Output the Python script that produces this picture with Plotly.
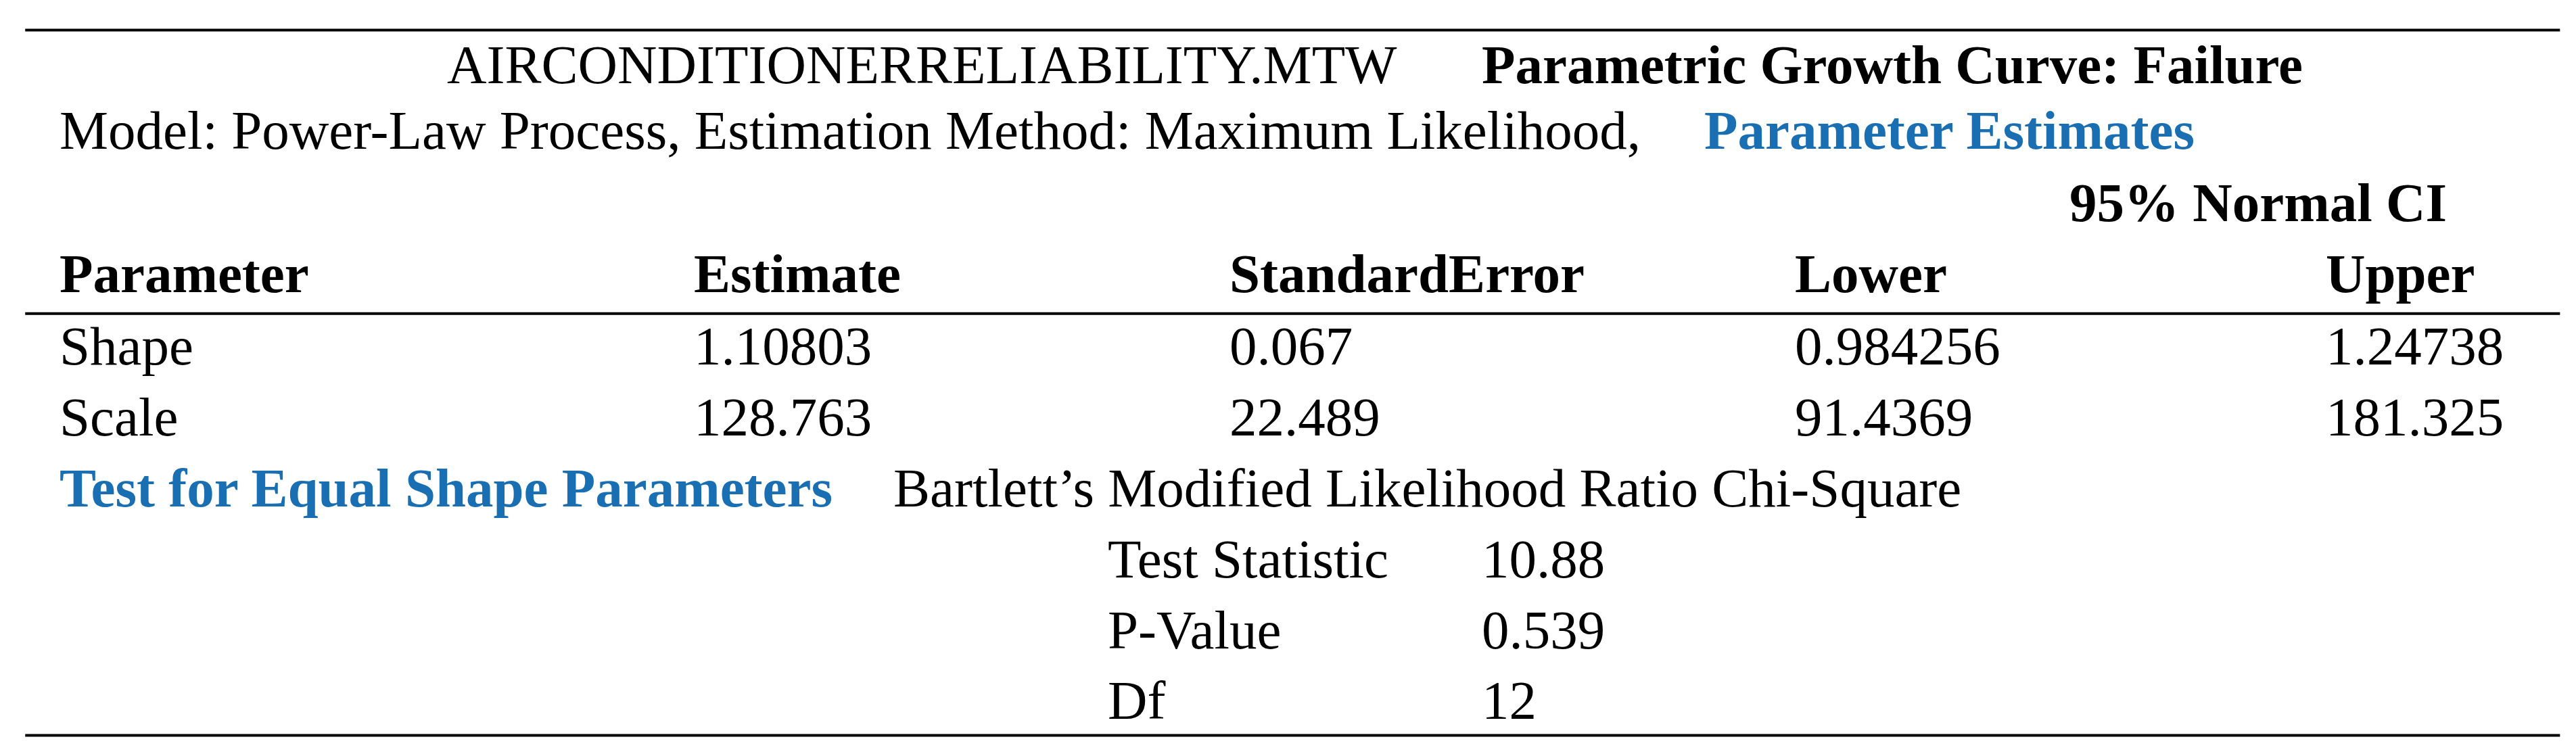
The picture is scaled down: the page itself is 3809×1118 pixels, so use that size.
import plotly.graph_objects as go

S = 3809 / 1563.0  # reference was laid out on a 1563 px wide grid

title_file = 'AIRCONDITIONERRELIABILITY.MTW'
title_main = 'Parametric Growth Curve: Failure'
model_text = 'Model: Power-Law Process, Estimation Method: Maximum Likelihood'
section1 = 'Parameter Estimates'
ci_label = '95% Normal CI'
headers = ['Parameter', 'Estimate', 'StandardError', 'Lower', 'Upper']
param_names = ['Shape', 'Scale']
estimates = ['1.10803', '128.763']
std_errors = ['0.067', '22.489']
lowers = ['0.984256', '91.4369']
uppers = ['1.24738', '181.325']
section2 = 'Test for Equal Shape Parameters'
test_name = 'Bartlett\u2019s Modified Likelihood Ratio Chi-Square'
test_labels = ['Test Statistic', 'P-Value', 'Df']
test_values = ['10.88', '0.539', '12']

BLUE = '#1a6fb3'
FONT = 'Liberation Serif'
FS = 81
col_x = [32, 417, 742, 1085, 1407]

fig = go.Figure()
ann = []


def txt(x, y, s, bold=False, color='black', anchor='left'):
    if bold:
        s = '<b>' + s + '</b>'
    ann.append(dict(x=x * S, y=(y - 4) * S, text=s, showarrow=False, xanchor=anchor,
                    yanchor='middle', font=dict(family=FONT, size=FS, color=color)))


txt(267, 40, title_file)
txt(895, 40, title_main, bold=True)
txt(32, 80, model_text + ',')
txt(1030, 80, section1, bold=True, color=BLUE)
txt(1482, 124, ci_label, bold=True, anchor='right')
for x, h in zip(col_x, headers):
    txt(x, 167, h, bold=True)
rows = list(zip(param_names, estimates, std_errors, lowers, uppers))
for i, r in enumerate(rows):
    for x, v in zip(col_x, r):
        txt(x, 211 + 43 * i, v)
txt(32, 297, section2, bold=True, color=BLUE)
txt(538, 297, test_name)
for i, (l, v) in enumerate(zip(test_labels, test_values)):
    txt(668, 340 + 43 * i, l)
    txt(895, 340 + 43 * i, v)

shapes = []
for y in [15, 187, 443]:
    shapes.append(dict(type='line', x0=12 * S, x1=1550 * S, y0=y * S, y1=y * S,
                       line=dict(color='black', width=4)))

fig.update_layout(
    width=3809, height=1118, margin=dict(l=0, r=0, t=0, b=0),
    paper_bgcolor='white', plot_bgcolor='white',
    xaxis=dict(range=[0, 3809], visible=False, fixedrange=True),
    yaxis=dict(range=[1118, 0], visible=False, fixedrange=True),
    annotations=ann, shapes=shapes, showlegend=False,
)
fig.write_html("out.html")
